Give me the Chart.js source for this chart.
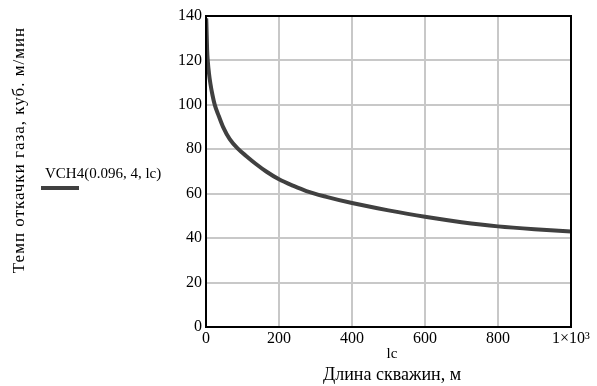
<!DOCTYPE html>
<html>
<head>
<meta charset="utf-8">
<script src="https://cdn.jsdelivr.net/npm/chart.js@4/dist/chart.umd.min.js"></script>
<style>
  body { margin: 0; background: #fff; }
  canvas { display: block; }
</style>
</head>
<body>
<canvas id="chart" width="597" height="386"></canvas>
<script>
// values
const lengths = [0.5, 1, 3, 5, 8, 12, 18, 24, 35, 47, 65, 88, 110, 136, 165, 200, 240, 275, 330, 400, 500, 600, 700, 800, 900, 1000];
const rates = [139, 137, 125, 119.5, 114.4, 109.6, 104.2, 100, 95, 90, 84.6, 80.2, 77, 73.5, 70, 66.5, 63.5, 61.2, 58.6, 55.8, 52.5, 49.6, 47.2, 45.3, 44, 43];
const xTicks = [0, 200, 400, 600, 800, 1000];
const xTickLabels = ["0", "200", "400", "600", "800", "1×10³"];
const yTicks = [0, 20, 40, 60, 80, 100, 120, 140];

const serif = "'Liberation Serif', 'DejaVu Serif', serif";

// frame + text labels (Mathcad style)
const decor = {
  id: "decor",
  afterDraw(chart) {
    const { ctx, chartArea: a } = chart;
    ctx.save();
    ctx.strokeStyle = "#000";
    ctx.lineWidth = 2;
    ctx.strokeRect(a.left, a.top, a.right - a.left, a.bottom - a.top);

    ctx.fillStyle = "#000";
    ctx.textAlign = "center";
    ctx.textBaseline = "middle";
    ctx.font = "15px " + serif;
    ctx.fillText("lc", 392, 354);
    ctx.font = "18px " + serif;
    ctx.fillText("Длина скважин, м", 392, 375);

    // y title
    ctx.translate(20, 150);
    ctx.rotate(-Math.PI / 2);
    ctx.font = "17px " + serif;
    ctx.letterSpacing = "1px";
    ctx.fillText("Темп откачки газа, куб. м/мин", 0, 0);
    ctx.restore();

    // legend
    ctx.save();
    ctx.fillStyle = "#000";
    ctx.font = "15px " + serif;
    ctx.textBaseline = "middle";
    ctx.fillText("VCH4(0.096, 4, lc)", 45, 174);
    ctx.strokeStyle = "#404040";
    ctx.lineWidth = 4;
    ctx.beginPath();
    ctx.moveTo(41, 188);
    ctx.lineTo(79, 188);
    ctx.stroke();
    ctx.restore();
  },
};

new Chart(document.getElementById("chart"), {
  type: "scatter",
  data: {
    datasets: [
      {
        data: lengths.map((x, i) => ({ x, y: rates[i] })),
        showLine: true,
        borderColor: "#404040",
        borderWidth: 4,
        pointRadius: 0,
        cubicInterpolationMode: "monotone",
      },
    ],
  },
  options: {
    responsive: false,
    animation: false,
    layout: { padding: { top: 16, right: 26, left: 0, bottom: 0 } },
    plugins: { legend: { display: false }, tooltip: { enabled: false } },
    scales: {
      x: {
        type: "linear",
        min: 0,
        max: 1000,
        afterFit: (s) => { s.height = 59; },
        afterBuildTicks: (s) => { s.ticks = xTicks.map((v) => ({ value: v })); },
        ticks: {
          padding: 2,
          color: "#000",
          font: { family: serif, size: 16 },
          callback: (v) => xTickLabels[xTicks.indexOf(v)],
        },
        grid: { color: "#c8c8c8", lineWidth: 2, drawTicks: false },
        border: { display: false },
      },
      y: {
        min: 0,
        max: 140,
        afterFit: (s) => { s.width = 206; },
        afterBuildTicks: (s) => { s.ticks = yTicks.map((v) => ({ value: v })); },
        ticks: {
          padding: 4,
          color: "#000",
          font: { family: serif, size: 16 },
        },
        grid: { color: "#c8c8c8", lineWidth: 2, drawTicks: false },
        border: { display: false },
      },
    },
  },
  plugins: [decor],
});
</script>
</body>
</html>
